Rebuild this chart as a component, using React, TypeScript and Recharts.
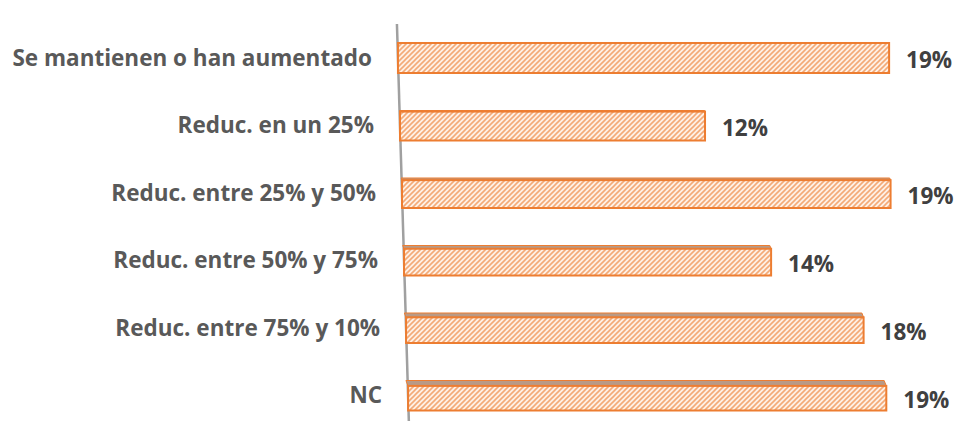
import React from 'react';
import * as Recharts from 'recharts';
import { BarChart, Bar, XAxis, YAxis, LabelList } from 'recharts';

const categories = [
  'Se mantienen o han aumentado',
  'Reduc. en un 25%',
  'Reduc. entre 25% y 50%',
  'Reduc. entre 50% y 75%',
  'Reduc. entre 75% y 10%',
  'NC',
];
const shares = [19.0, 11.8, 18.9, 14.2, 17.7, 18.5];

const chartData = categories.map((name, i) => ({ name, share: shares[i] }));

const FONT = '"Open Sans", "Noto Sans", sans-serif';
const MID_Y = 226;
// fake 3D: the axis leans a little, lower rows sit further right
const lean = (y: number) => (y - MID_Y) * 0.03;
const depth = (y: number) => Math.max(0, (y - 58) * 0.016);

const BarShape = (props: any) => {
  const { x, y, width, height } = props;
  const cy = y + height / 2;
  const s = lean(cy);
  const d = depth(cy);
  const left = x + s;
  return (
    <g>
      {d > 0.5 && (
        <polygon
          points={`${left},${y + d} ${left + width},${y + d} ${left + width - d * 0.4},${y} ${left - d * 0.4},${y}`}
          fill="#B99A86"
          stroke="#ED7D31"
          strokeWidth={1}
        />
      )}
      <rect
        x={left}
        y={y + d}
        width={width}
        height={height - d}
        fill="url(#hatch)"
        stroke="#ED7D31"
        strokeWidth={2}
      />
    </g>
  );
};

const CategoryTick = (props: any) => {
  const { x, y, payload } = props;
  return (
    <text
      x={x + lean(y)}
      y={y}
      dy="0.35em"
      textAnchor="end"
      fill="#595959"
      fontSize={22.5}
      fontWeight={700}
      fontFamily={FONT}
    >
      {payload.value}
    </text>
  );
};

const ValueLabel = (props: any) => {
  const { x, y, width, height, value } = props;
  const cy = y + height / 2;
  const d = depth(cy);
  return (
    <text
      x={x + width + lean(cy) + 17}
      y={cy + d / 2 + 2}
      dy="0.35em"
      fill="#404040"
      fontSize={22.5}
      fontWeight={700}
      fontFamily={FONT}
    >
      {`${Math.round(value)}%`}
    </text>
  );
};

const usePlotArea: () => any = (Recharts as any).usePlotArea ?? (() => null);

const LeaningAxis = () => {
  const area = usePlotArea();
  const left = area ? area.x : 403;
  const top = area ? area.y : 24;
  const bottom = top + (area ? area.height : 405);
  return (
    <line
      x1={left + lean(top)}
      y1={top}
      x2={left + lean(bottom)}
      y2={bottom}
      stroke="#A0A0A0"
      strokeWidth={2.5}
    />
  );
};

export default function App() {
  return (
    <div
      style={{
        position: 'absolute',
        left: 0,
        top: 0,
        width: 954,
        height: 421,
        overflow: 'hidden',
        background: '#fff',
      }}
    >
      <BarChart
        width={954}
        height={429}
        data={chartData}
        layout="vertical"
        margin={{ top: 24, right: 34, bottom: 0, left: 0 }}
      >
        <defs>
          <pattern id="hatch" width={5} height={5} patternUnits="userSpaceOnUse">
            <rect width={5} height={5} fill="#FFF1E6" />
            <path d="M-1,1 l2,-2 M0,5 l5,-5 M4,6 l2,-2" stroke="#F3AA78" strokeWidth={1.6} />
          </pattern>
        </defs>
        <XAxis type="number" domain={[0, 20]} hide />
        <YAxis
          type="category"
          dataKey="name"
          width={403}
          axisLine={false}
          tickLine={false}
          tickSize={0}
          tickMargin={26}
          tick={<CategoryTick />}
          interval={0}
        />
        <Bar dataKey="share" barSize={30} shape={<BarShape />} isAnimationActive={false}>
          <LabelList dataKey="share" content={<ValueLabel />} />
        </Bar>
        <LeaningAxis />
      </BarChart>
    </div>
  );
}
